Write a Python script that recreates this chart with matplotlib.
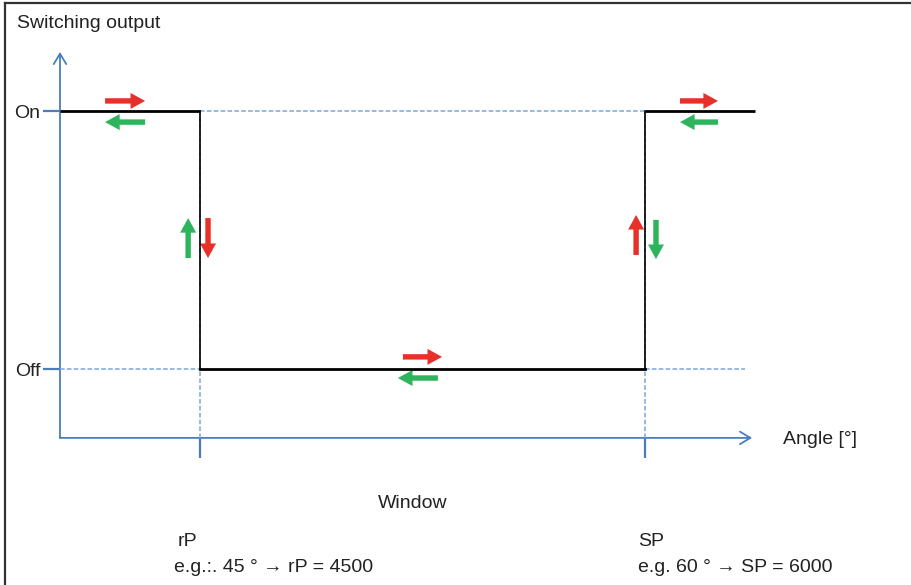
import matplotlib.pyplot as plt
from matplotlib.patches import FancyArrowPatch
from matplotlib.lines import Line2D

plt.rcParams['font.family'] = ['Liberation Sans', 'DejaVu Sans']

# switching points (degrees) and output levels
rp_angle = 45
sp_angle = 60
state_on = 1
state_off = 0
level_labels = ['On', 'Off']
level_values = [state_on, state_off]

# hysteresis path of the switching output
path_x = [40.28, rp_angle, rp_angle, sp_angle, sp_angle, 63.71]
path_y = [state_on, state_on, state_off, state_off, state_on, state_on]

x_axis_y = -0.267
x_end = 63.61
y_end = 1.229

RED = '#e8302a'
GREEN = '#2db45c'
BLUE = '#4a7ebb'
LBLUE = '#7aa5d8'
TXT = '#222222'

fig = plt.figure(figsize=(9.11, 5.85), dpi=100)
ax = fig.add_axes([0, 0, 1, 1])
ax.set_xlim(38.258, 68.966)
ax.set_ylim(-0.8372, 1.4302)
ax.axis('off')

x0 = path_x[0]

# axes with open arrow heads
for tail, tip in [((x0, x_axis_y), (x0, y_end)), ((x0, x_axis_y), (x_end, x_axis_y))]:
    ax.add_patch(FancyArrowPatch(tail, tip, arrowstyle='->,head_length=7.5,head_width=4.5',
                                 mutation_scale=1, color=BLUE, lw=1.3, shrinkA=0, shrinkB=0))

# level ticks
for v in level_values:
    ax.plot([39.707, x0], [v, v], color=BLUE, lw=1.6, solid_capstyle='butt')

# tick marks below x-axis
for a in [rp_angle, sp_angle]:
    ax.plot([a, a], [x_axis_y, -0.345], color=BLUE, lw=1.6, solid_capstyle='butt')

# dashed guide lines
dash = dict(color=LBLUE, lw=1.1, linestyle=(0, (3, 1.5)))
ax.plot([rp_angle, sp_angle], [state_on, state_on], **dash)
ax.plot([x0, rp_angle], [state_off, state_off], **dash)
ax.plot([sp_angle, 63.37], [state_off, state_off], **dash)
for a in [rp_angle, sp_angle]:
    ax.plot([a, a], [x_axis_y, state_on], **dash)

# switching characteristic
ax.plot(path_x[:2], path_y[:2], color='black', lw=2.0, solid_capstyle='butt')
ax.plot(path_x[1:3], path_y[1:3], color='black', lw=1.2)
ax.plot(path_x[2:4], path_y[2:4], color='black', lw=2.0)
ax.plot(path_x[3:5], path_y[3:5], color='black', lw=1.2)
ax.plot(path_x[4:], path_y[4:], color='black', lw=2.0, solid_capstyle='butt')

# direction arrows (tail, tip, colour)
arrows = [
    ((41.80, 1.039), (43.15, 1.039), RED),
    ((43.15, 0.957), (41.80, 0.957), GREEN),
    ((61.18, 1.039), (62.46, 1.039), RED),
    ((62.46, 0.957), (61.18, 0.957), GREEN),
    ((44.60, 0.430), (44.60, 0.585), GREEN),
    ((45.27, 0.585), (45.27, 0.430), RED),
    ((59.70, 0.442), (59.70, 0.597), RED),
    ((60.37, 0.578), (60.37, 0.426), GREEN),
    ((51.84, 0.047), (53.16, 0.047), RED),
    ((53.02, -0.035), (51.67, -0.035), GREEN),
]
for tail, tip, c in arrows:
    ax.add_patch(FancyArrowPatch(tail, tip, arrowstyle='simple,head_length=10.5,head_width=11.5,tail_width=3.9',
                                 mutation_scale=1, color=c, lw=0, shrinkA=0, shrinkB=0))

fs = 14
dy = -0.008
for lab, v in zip(level_labels, level_values):
    ax.text(39.62, v + dy, lab, ha='right', va='center', fontsize=fs, color=TXT)

ax.text(64.65, x_axis_y + dy, 'Angle [°]', ha='left', va='center', fontsize=fs, color=TXT)

fig.text(17 / 911, 1 - 24 / 585, 'Switching output', ha='left', va='center', fontsize=fs, color=TXT)
fig.text(413 / 911, 1 - 504 / 585, 'Window', ha='center', va='center', fontsize=fs, color=TXT)
fig.text(178 / 911, 1 - 542 / 585, 'rP', ha='left', va='center', fontsize=fs, color=TXT)
fig.text(174 / 911, 1 - 567 / 585, 'e.g.:. 45 ° → rP = 4500', ha='left', va='center', fontsize=fs, color=TXT)
fig.text(638 / 911, 1 - 542 / 585, 'SP', ha='left', va='center', fontsize=fs, color=TXT)
fig.text(638 / 911, 1 - 567 / 585, 'e.g. 60 ° → SP = 6000', ha='left', va='center', fontsize=fs, color=TXT)

# frame
fig.add_artist(Line2D([5 / 911, 1], [1 - 3 / 585, 1 - 3 / 585], color='#333333', lw=1.6, transform=fig.transFigure))
fig.add_artist(Line2D([5 / 911, 5 / 911], [0, 1 - 3 / 585], color='#333333', lw=1.6, transform=fig.transFigure))

fig.savefig('out.png', dpi=100)
